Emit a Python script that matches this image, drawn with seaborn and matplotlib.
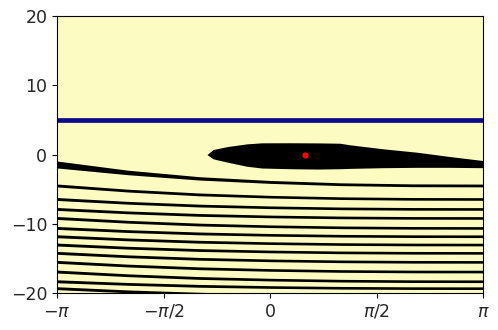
import numpy as np
import pandas as pd
import matplotlib
matplotlib.use("Agg")
import matplotlib.pyplot as plt
import seaborn as sns

# Eixos
X_MIN, X_MAX = -np.pi, np.pi
Y_MIN, Y_MAX = -20, 20
X_TICKS = [-np.pi, -np.pi / 2, 0, np.pi / 2, np.pi]
X_TICK_LABELS = [r"$-\pi$", r"$-\pi/2$", "0", r"$\pi/2$", r"$\pi$"]
Y_TICKS = [-20, -10, 0, 10, 20]

# Linha horizontal e ponto
LINHA_Y = 5.0
PONTO_X = [0.52]
PONTO_Y = [0.0]

# Região preta central (borda superior / inferior)
ELIPSE_X = [-0.93, -0.84, -0.63, -0.34, -0.12, 0.3, 0.7, 1.03, 1.18, 1.67, 2.17, 2.65, np.pi]
ELIPSE_TOPO = [0.0, 0.72, 1.15, 1.54, 1.69, 1.70, 1.68, 1.63, 1.40, 0.82, 0.33, -0.29, -0.87]
ELIPSE_BASE = [0.0, -0.62, -1.10, -1.70, -1.95, -2.05, -2.10, -2.05, -2.00, -1.90, -1.85, -1.85, -1.90]

# Faixas inclinadas: posição em x = -pi, perfil de descida e espessuras
FAIXAS_Y_ESQ = [-1.44, -4.47, -6.42, -7.86, -9.16, -10.6, -11.8, -13.0,
                -14.2, -15.5, -16.9, -18.3, -19.3, -20.5, -21.6]
PERFIL_X = [-np.pi, -2 * np.pi / 3, -np.pi / 3, 0, np.pi / 3, 2 * np.pi / 3, np.pi]
PERFIL = [0.0, 0.38, 0.66, 0.83, 0.94, 0.99, 1.0]
LARGURA_PRIMEIRA = [1.0, 0.65, 0.48, 0.42, 0.40, 0.40, 0.40]
LARGURA_OUTRAS = [0.42, 0.40, 0.40, 0.38, 0.38, 0.38, 0.38]

COR_FUNDO = "#fcfbc1"
COR_LINHA = "#0b0b8a"
COR_PONTO = "#ff0000"


def main():
    sns.set_style("ticks")
    plt.rcParams["font.family"] = ["DejaVu Sans"]
    plt.rcParams["mathtext.fontset"] = "dejavusans"

    fig = plt.figure(figsize=(4.98, 3.30), dpi=100)
    ax = fig.add_axes([0.1145, 0.112, 0.8555, 0.8395])
    ax.set_facecolor(COR_FUNDO)

    # faixas
    px = np.array(PERFIL_X)
    perfil = np.array(PERFIL)
    for k in range(len(FAIXAS_Y_ESQ) - 1):
        y0, y1 = FAIXAS_Y_ESQ[k], FAIXAS_Y_ESQ[k + 1]
        centro = y0 + perfil * (y1 - y0)
        larg = np.array(LARGURA_PRIMEIRA if k == 0 else LARGURA_OUTRAS)
        ax.fill_between(px, centro - larg / 2, centro + larg / 2,
                        color="black", linewidth=0)

    # região central
    ax.fill_between(ELIPSE_X, ELIPSE_BASE, ELIPSE_TOPO, color="black", linewidth=0)

    # linha azul
    df_linha = pd.DataFrame({"x": [X_MIN, X_MAX], "y": [LINHA_Y, LINHA_Y]})
    sns.lineplot(data=df_linha, x="x", y="y", ax=ax, color=COR_LINHA, linewidth=3.4)

    # ponto vermelho
    df_ponto = pd.DataFrame({"x": PONTO_X, "y": PONTO_Y})
    sns.scatterplot(data=df_ponto, x="x", y="y", ax=ax, color=COR_PONTO,
                    s=20, linewidth=0, zorder=5)

    ax.set_xlim(X_MIN, X_MAX)
    ax.set_ylim(Y_MIN, Y_MAX)
    ax.set_xticks(X_TICKS)
    ax.set_xticklabels(X_TICK_LABELS)
    ax.set_yticks(Y_TICKS)
    ax.set_xlabel("")
    ax.set_ylabel("")
    ax.tick_params(axis="both", labelsize=12.5, length=3.5, width=0.8, color="black")
    for sp in ax.spines.values():
        sp.set_visible(True)
        sp.set_color("black")
        sp.set_linewidth(0.8)

    fig.savefig("out.png", dpi=100)


if __name__ == "__main__":
    main()
